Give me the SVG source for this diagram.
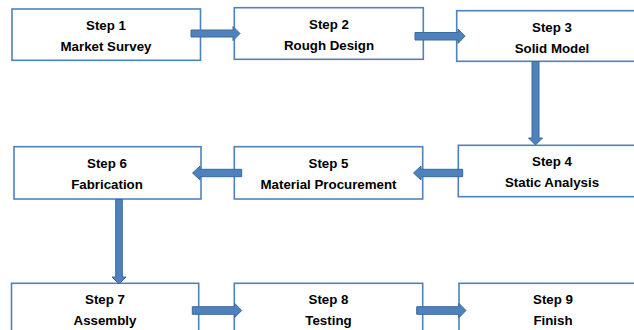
<svg xmlns="http://www.w3.org/2000/svg" width="634" height="330" viewBox="0 0 634 330">
<style>
.box{fill:#ffffff;stroke:#4f81bd;stroke-width:1.6}
.t{font-family:"Liberation Sans",Arial,sans-serif;font-weight:bold;font-size:13.3px;fill:#000000;text-anchor:middle}
.ar{fill:#4f81bd;stroke:#3b6a9f;stroke-width:1}
</style>
<rect width="634" height="330" fill="#ffffff"/>
<g id="step1"><rect class="box" x="12" y="9" width="188.5" height="51.3"/><text class="t" x="106" y="30">Step 1</text><text class="t" x="106" y="51">Market Survey</text></g>
<g id="step2"><rect class="box" x="234.3" y="7.7" width="189" height="51.6"/><text class="t" x="329" y="28.5">Step 2</text><text class="t" x="329" y="49.5">Rough Design</text></g>
<g id="step3"><rect class="box" x="456.7" y="10.7" width="190" height="50.6"/><text class="t" x="552" y="31.5">Step 3</text><text class="t" x="552" y="52.5">Solid Model</text></g>
<g id="step4"><rect class="box" x="458.3" y="145.3" width="190" height="51.4"/><text class="t" x="552" y="166">Step 4</text><text class="t" x="552" y="187">Static Analysis</text></g>
<g id="step5"><rect class="box" x="234.3" y="146.7" width="188.4" height="52.3"/><text class="t" x="328.5" y="168">Step 5</text><text class="t" x="328.5" y="189">Material Procurement</text></g>
<g id="step6"><rect class="box" x="14" y="146.7" width="187" height="52.3"/><text class="t" x="107" y="168">Step 6</text><text class="t" x="107" y="189">Fabrication</text></g>
<g id="step7"><rect class="box" x="11.5" y="283.3" width="187.2" height="60"/><text class="t" x="105" y="304">Step 7</text><text class="t" x="105" y="325">Assembly</text></g>
<g id="step8"><rect class="box" x="234.3" y="283.3" width="188.4" height="60"/><text class="t" x="328.5" y="304">Step 8</text><text class="t" x="328.5" y="325">Testing</text></g>
<g id="step9"><rect class="box" x="459" y="283.3" width="190" height="60"/><text class="t" x="553" y="304">Step 9</text><text class="t" x="553" y="325">Finish</text></g>
<g id="connectors">
<polygon class="ar" points="191,30 233,30 233,26.5 240,33.5 233,40.5 233,37 191,37"/>
<polygon class="ar" points="415,32.5 458,32.5 458,29 465,36.2 458,43.4 458,40 415,40"/>
<polygon class="ar" points="532,61.5 539,61.5 539,138 542.5,138 535.5,145 528.5,138 532,138"/>
<polygon class="ar" points="462.7,169.3 421,169.3 421,166 413.5,173 421,180 421,176.7 462.7,176.7"/>
<polygon class="ar" points="241.7,169.3 200,169.3 200,166 192.5,173 200,180 200,176.7 241.7,176.7"/>
<polygon class="ar" points="115.7,199.5 122.3,199.5 122.3,277 126,277 119,284 112,277 115.7,277"/>
<polygon class="ar" points="192.3,306.7 234.5,306.7 234.5,303.2 241.7,310.5 234.5,317.8 234.5,314.3 192.3,314.3"/>
<polygon class="ar" points="416.7,306.7 458.8,306.7 458.8,303.2 466,310.5 458.8,317.8 458.8,314.3 416.7,314.3"/>
</g>
</svg>
